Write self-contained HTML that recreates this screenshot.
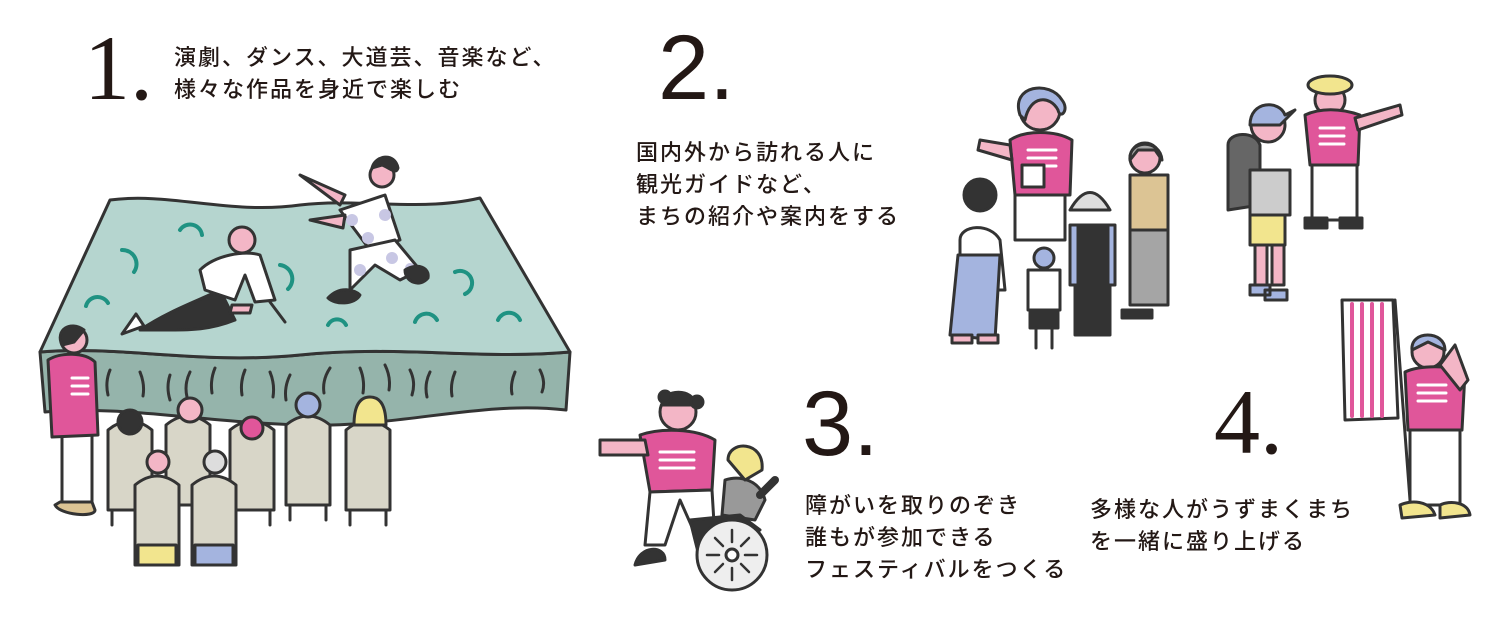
<!DOCTYPE html>
<html><head><meta charset="utf-8"><style>
html,body{margin:0;padding:0;background:#fff;}
body{width:1500px;height:625px;position:relative;overflow:hidden;font-family:"Liberation Sans","Noto Sans CJK JP",sans-serif;color:#231815;}
.t{position:absolute;font-size:22px;letter-spacing:2px;line-height:32px;white-space:nowrap;font-family:"Noto Sans CJK JP","Liberation Sans",sans-serif;font-weight:500;}
.n{position:absolute;font-size:92px;line-height:1;color:#231815;}
.serif{font-family:"Liberation Serif",serif;}
svg{position:absolute;left:0;top:0;}
</style></head><body>
<svg width="1500" height="625" viewBox="0 0 1500 625" stroke="#333" stroke-width="3" stroke-linejoin="round" stroke-linecap="round">
<!-- STAGE -->
<path d="M40,352 C120,345 200,365 300,355 C400,345 480,360 570,352 L566,410 C480,400 400,428 300,425 C200,422 120,405 45,412 Z" fill="#95b4ab"/>
<path d="M110,200 C170,192 230,215 300,205 C360,198 420,212 480,198 L570,352 C480,360 400,345 300,355 C200,365 120,345 40,352 Z" fill="#b5d5cf"/>
<g fill="none" stroke="#333" stroke-width="3">
<path d="M95,375 q-4,10 0,22"/><path d="M110,370 q-5,12 -2,25"/><path d="M140,372 q5,12 3,24"/><path d="M170,375 q-4,12 0,25"/><path d="M190,372 q-6,12 -3,25"/><path d="M215,368 q-5,12 -3,25"/><path d="M245,370 q-5,12 -3,25"/><path d="M270,372 q5,12 3,25"/><path d="M290,375 q-6,12 -4,25"/><path d="M330,368 q-8,12 -6,25"/><path d="M360,368 q5,12 3,25"/><path d="M385,365 q6,12 4,25"/><path d="M410,370 q6,12 2,25"/><path d="M430,372 q-6,12 -3,25"/><path d="M455,372 q-5,12 -3,24"/><path d="M515,372 q-5,12 -3,22"/><path d="M540,370 q6,12 2,22"/>
</g>
<g fill="none" stroke="#1f9282" stroke-width="4">
<path d="M180,230 a12,12 0 0 1 22,5"/><path d="M122,250 a14,14 0 0 1 12,22"/><path d="M86,306 a12,12 0 0 1 22,-3"/><path d="M280,265 a14,14 0 0 1 8,24"/><path d="M328,325 a10,10 0 0 1 18,0"/><path d="M455,272 a12,12 0 0 1 10,22"/><path d="M415,322 a12,12 0 0 1 22,-2"/><path d="M498,320 a12,12 0 0 1 22,0"/>
</g>
<!-- crawling dancer -->
<path d="M140,330 C170,310 200,300 220,290 L235,320 C210,330 190,330 170,330 Z" fill="#333"/>
<path d="M122,334 l14,-20 l8,12 z" fill="#fff"/>
<path d="M200,270 C215,255 245,250 260,255 L275,300 L255,302 L245,275 L235,300 L205,290 Z" fill="#fff"/>
<circle cx="242" cy="240" r="13" fill="#f3b6c6"/>
<path d="M232,305 l20,0 l-2,8 l-20,0 z" fill="#f3b6c6"/>
<path d="M270,302 l15,20" fill="none"/>
<!-- jumping dancer -->
<path d="M340,210 L385,195 L400,240 L370,250 Z" fill="#fff"/>
<path d="M350,250 L395,240 L420,270 L400,280 L375,265 L350,290 Z" fill="#fff"/>
<g fill="#c8c7e4" stroke="none"><circle cx="352" cy="220" r="6"/><circle cx="385" cy="215" r="6"/><circle cx="368" cy="238" r="6"/><circle cx="360" cy="270" r="6"/><circle cx="392" cy="258" r="6"/><circle cx="410" cy="268" r="5"/></g>
<path d="M328,298 C340,285 355,290 360,295 C355,305 335,305 328,298Z" fill="#333"/>
<path d="M405,270 C418,262 430,268 428,278 C420,288 405,282 405,270Z" fill="#333"/>
<circle cx="382" cy="175" r="12" fill="#f3b6c6"/>
<path d="M372,168 C375,155 395,152 398,168 C396,175 390,168 382,165Z" fill="#333"/>
<path d="M300,175 L345,195 L340,205 Z" fill="#f3b6c6"/>
<path d="M310,220 L345,215 L343,228 Z" fill="#f3b6c6"/>
<!-- staff left -->
<path d="M62,435 L62,505 L92,505 L92,435 Z" fill="#fff"/>
<path d="M55,505 C60,515 95,518 95,510 L92,502 L60,502 Z" fill="#dcc494"/>
<path d="M48,360 C60,352 85,352 95,362 L98,435 L52,437 Z" fill="#e0569a"/>
<g stroke="#fff" stroke-width="3"><path d="M72,378 h16"/><path d="M72,386 h16"/><path d="M72,394 h16"/></g>
<circle cx="74" cy="340" r="13" fill="#f3b6c6"/>
<path d="M62,345 C55,330 70,320 84,330 L74,342 Z" fill="#333"/>
<!-- audience chairs -->
<g fill="#d8d6c8">
<path d="M108,430 q22,-18 44,0 v80 h-44z"/><path d="M166,425 q22,-18 44,0 v80 h-44z"/><path d="M230,430 q22,-18 44,0 v80 h-44z"/><path d="M286,425 q22,-18 44,0 v80 h-44z"/><path d="M346,430 q22,-18 44,0 v80 h-44z"/>
</g>
<g stroke-width="3"><path d="M112,510 v15 M148,510 v15 M290,505 v15 M326,505 v15 M350,510 v15 M386,510 v15 M234,510 v15 M270,510 v15"/></g>
<circle cx="130" cy="422" r="12" fill="#333"/><circle cx="190" cy="410" r="12" fill="#f3b6c6"/><circle cx="252" cy="428" r="11" fill="#e0569a"/><circle cx="308" cy="405" r="12" fill="#a4b4df"/><path d="M354,425 q0,-28 16,-28 q16,0 16,28 z" fill="#f2e58e"/>
<g fill="#d8d6c8">
<path d="M135,485 q22,-18 44,0 v80 h-44z" /><path d="M192,485 q22,-18 44,0 v80 h-44z"/>
</g>
<path d="M138,545 h38 v20 h-38z" fill="#f2e58e"/><path d="M195,545 h38 v20 h-38z" fill="#a4b4df"/>
<circle cx="158" cy="462" r="11" fill="#f3b6c6"/><circle cx="215" cy="462" r="11" fill="#ddd"/>
<!-- GROUP 2 -->
<circle cx="1040" cy="110" r="20" fill="#f3b6c6"/>
<path d="M1020,115 C1010,85 1050,80 1062,100 C1070,110 1060,120 1058,110 C1050,95 1030,95 1025,120Z" fill="#a4b4df"/>
<path d="M1010,140 C1025,130 1055,130 1072,140 L1070,195 L1015,195 Z" fill="#e0569a"/>
<g stroke="#fff"><path d="M1028,150 h28"/><path d="M1028,158 h28"/><path d="M1028,166 h28"/></g>
<path d="M1010,145 L980,140 L978,150 L1012,160Z" fill="#f3b6c6"/>
<path d="M1022,165 h22 v22 h-22z" fill="#fff"/>
<path d="M1015,195 L1015,240 L1065,240 L1065,195Z" fill="#fff"/>
<path d="M960,240 C960,225 990,222 1000,240 L1005,290 L960,290Z" fill="#fff"/>
<circle cx="980" cy="195" r="16" fill="#333"/>
<path d="M958,255 L950,335 L995,340 L1000,255Z" fill="#a4b4df"/>
<path d="M952,335 h20 v8 h-20z M978,335 h20 v8 h-20z" fill="#f3b6c6"/>
<path d="M1070,225 h45 v60 h-45z" fill="#a4b4df"/><path d="M1078,225 h30 v60 h-30z" fill="#333"/>
<path d="M1070,210 q20,-35 40,0 z" fill="#ddd"/>
<path d="M1075,285 h35 v50 h-35z" fill="#333"/>
<path d="M1028,270 h32 v40 h-32z" fill="#fff"/><path d="M1030,310 h28 v18 h-28z" fill="#333"/>
<path d="M1036,328 v20 M1052,328 v20"/>
<circle cx="1044" cy="258" r="10" fill="#a4b4df"/>
<path d="M1130,175 h38 v55 h-38z" fill="#dcc494"/>
<path d="M1130,230 h38 v75 h-38z" fill="#a5a5a5"/>
<path d="M1122,310 h30 v8 h-30z" fill="#333"/>
<circle cx="1145" cy="158" r="15" fill="#f3b6c6"/><path d="M1130,160 C1128,140 1160,138 1162,160 L1155,150 L1138,150Z" fill="#a5a5a5"/>
<!-- backpacker -->
<path d="M1228,145 C1228,132 1255,130 1260,145 L1260,205 L1228,210 Z" fill="#666"/>
<path d="M1250,170 h40 v45 h-40z" fill="#ccc"/>
<path d="M1250,215 h35 v30 h-35z" fill="#f2e58e"/>
<path d="M1255,245 h12 v40 h-12z M1272,245 h12 v40 h-12z" fill="#f3b6c6"/>
<path d="M1250,285 h20 v10 h-20z M1265,290 h22 v10 h-22z" fill="#a4b4df"/>
<circle cx="1268" cy="125" r="17" fill="#f3b6c6"/><path d="M1250,125 C1250,100 1280,100 1285,115 L1295,110 L1280,125Z" fill="#a4b4df"/>
<!-- staff with hat -->
<circle cx="1330" cy="100" r="15" fill="#f3b6c6"/>
<ellipse cx="1330" cy="85" rx="22" ry="9" fill="#f2e58e"/>
<path d="M1305,115 C1320,108 1340,108 1360,115 L1358,165 L1310,165Z" fill="#e0569a"/>
<g stroke="#fff"><path d="M1320,128 h24"/><path d="M1320,136 h24"/><path d="M1320,144 h24"/></g>
<path d="M1355,118 L1400,105 L1402,115 L1358,130Z" fill="#f3b6c6"/>
<path d="M1312,165 h45 v55 h-45z" fill="#fff"/>
<path d="M1305,218 h22 v10 h-22z M1340,218 h22 v10 h-22z" fill="#333"/>
<!-- GROUP 3 -->
<circle cx="678" cy="412" r="18" fill="#f3b6c6"/>
<path d="M662,405 C662,388 695,388 695,405Z" fill="#333"/><circle cx="665" cy="397" r="6" fill="#333"/><circle cx="697" cy="402" r="6" fill="#333"/>
<path d="M640,435 C660,428 695,428 715,440 L712,490 L650,492 Z" fill="#e0569a"/>
<g stroke="#fff"><path d="M660,452 h34"/><path d="M660,460 h34"/><path d="M660,468 h34"/></g>
<path d="M645,440 L600,440 L600,455 L648,455Z" fill="#f3b6c6"/>
<path d="M650,492 L645,545 L665,545 L680,500 L700,545 L715,540 L712,490Z" fill="#fff"/>
<path d="M635,565 C640,545 665,545 665,560Z" fill="#333"/>
<path d="M725,480 C740,475 760,480 765,500 L755,520 L722,515Z" fill="#999"/>
<path d="M728,460 C728,440 765,440 762,470 L745,480Z" fill="#f2e58e"/>
<path d="M690,520 L740,515 L760,530 L700,560Z" fill="#333"/>
<circle cx="732" cy="555" r="35" fill="#eee"/>
<circle cx="732" cy="555" r="6" fill="#fff"/>
<g stroke-width="2.5"><path d="M732,530 v12 M732,568 v12 M707,555 h12 M745,555 h12 M715,538 l8,8 M741,564 l8,8 M749,538 l-8,8 M715,572 l8,-8"/></g>
<path d="M760,495 L775,480" stroke-width="8"/>
<!-- GROUP 4 flag -->
<path d="M1342,300 L1393,300 L1398,418 L1345,420 Z" fill="#fff"/>
<g stroke="#e0569a" stroke-width="4"><path d="M1352,304 v112"/><path d="M1362,304 v112"/><path d="M1372,304 v112"/><path d="M1382,304 v112"/></g>
<path d="M1395,300 L1410,500" fill="none"/>
<circle cx="1428" cy="352" r="16" fill="#f3b6c6"/><path d="M1412,350 C1410,330 1445,330 1445,350 L1428,342Z" fill="#a4b4df"/>
<path d="M1405,372 C1420,365 1450,365 1465,372 L1462,430 L1408,430Z" fill="#e0569a"/>
<g stroke="#fff"><path d="M1418,385 h28"/><path d="M1418,393 h28"/><path d="M1418,401 h28"/></g>
<path d="M1410,430 h50 v75 h-50z" fill="#fff"/>
<path d="M1400,505 C1410,500 1430,500 1435,515 L1402,518Z" fill="#f2e58e"/>
<path d="M1440,505 C1450,500 1468,502 1470,515 L1440,518Z" fill="#f2e58e"/>
<path d="M1440,365 L1455,345 L1468,380 L1460,390Z" fill="#f3b6c6"/>
</svg>

<div class="n serif" style="left:84px;top:22px;">1.</div>
<div class="t" style="left:174px;top:40px;">演劇、ダンス、大道芸、音楽など、<br>様々な作品を身近で楽しむ</div>
<div class="n" style="left:658px;top:22px;">2.</div>
<div class="t" style="left:636px;top:135px;">国内外から訪れる人に<br>観光ガイドなど、<br>まちの紹介や案内をする</div>
<div class="n" style="left:802px;top:378px;">3.</div>
<div class="t" style="left:805px;top:488px;">障がいを取りのぞき<br>誰もが参加できる<br>フェスティバルをつくる</div>
<div class="n serif" style="left:1214px;top:376px;">4.</div>
<div class="t" style="left:1090px;top:492px;">多様な人がうずまくまち<br>を一緒に盛り上げる</div>
</body></html>
